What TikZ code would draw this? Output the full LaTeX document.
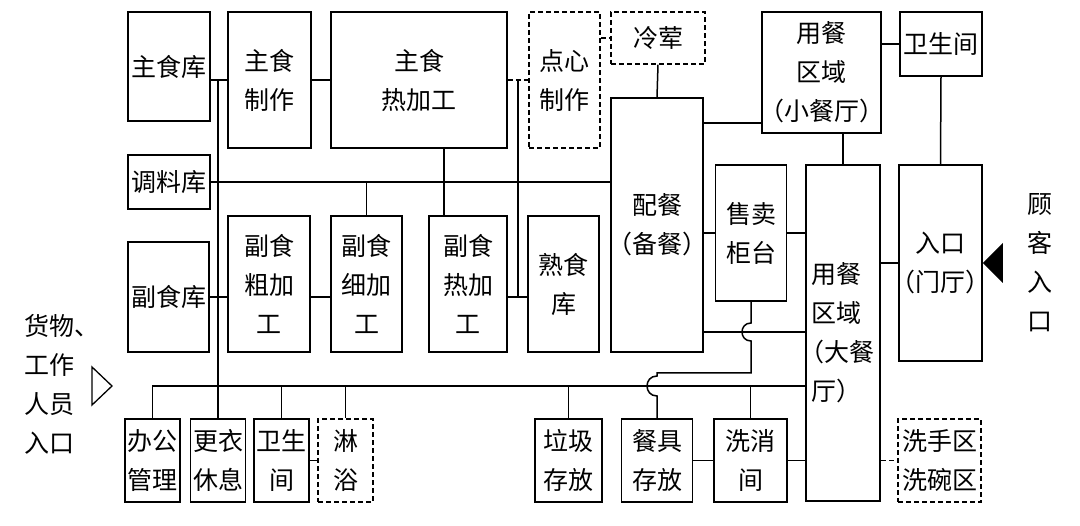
\documentclass[tikz,border=0pt]{standalone}
\usepackage{fontspec}
\setmainfont{Noto Sans CJK SC}
\usetikzlibrary{calc}
\newcommand\LP{\makebox[0.55em][r]{（}}
\newcommand\RP{\makebox[0.55em][l]{）}}
\tikzset{
  bx/.style={draw, line width=1.5pt, inner sep=0pt, align=center, font=\fontsize{25pt}{39pt}\selectfont},
  dbx/.style={bx, dash pattern=on 5pt off 3pt},
  ln/.style={line width=1.5pt},
  dln/.style={ln, dash pattern=on 5pt off 3pt},
  lbl/.style={inner sep=0pt, font=\fontsize{25pt}{39pt}\selectfont}
}
\begin{document}
\begin{tikzpicture}[x=1pt, y=-1pt]
\useasboundingbox (0,0) rectangle (1080,526);
% top row
\node[bx, minimum width=82pt, minimum height=109pt] (zsk) at (169,66.5) {主食库};
\node[bx, minimum width=83pt, minimum height=136pt] (zszz) at (269.5,80) {主食\\制作};
\node[bx, minimum width=176pt, minimum height=136pt] (zsrjg) at (419,80) {主食\\热加工};
\node[dbx, minimum width=71pt, minimum height=136pt] (dxzz) at (564.5,80) {点心\\制作};
\node[dbx, minimum width=94pt, minimum height=52pt] (lh) at (658,38) {冷荤};
\node[bx, minimum width=92pt, minimum height=254pt] (ph) at (657,225) {配餐\\\LP 备餐\RP};
\node[bx, minimum width=119pt, minimum height=121pt] (xct) at (821.5,72.5) {用餐\\区域\\\LP 小餐厅\RP};
\node[bx, minimum width=82pt, minimum height=64pt] (wsj1) at (941,44) {卫生间};
% middle
\node[bx, minimum width=82pt, minimum height=54pt] (tlk) at (169,182) {调料库};
\node[bx, minimum width=81pt, minimum height=110pt] (fsk) at (168.5,297) {副食库};
\node[bx, minimum width=82pt, minimum height=136pt] (fscjg) at (269,284) {副食\\粗加\\工};
\node[bx, minimum width=71pt, minimum height=136pt] (fsxjg) at (366.5,284) {副食\\细加\\工};
\node[bx, minimum width=78pt, minimum height=136pt] (fsrjg) at (468,284) {副食\\热加\\工};
\node[bx, minimum width=71pt, minimum height=136pt] (ssk) at (563.5,284) {熟食\\库};
\node[bx, minimum width=71pt, minimum height=136pt] (smgt) at (751,233) {售卖\\柜台};
\node[bx, minimum width=74pt, minimum height=336pt, align=left] (dct) at (843,333) {用餐\\区域\\\LP 大餐\\厅\RP};
\node[bx, minimum width=83pt, minimum height=196pt] (rk) at (940.5,263) {入口\\\LP 门厅\RP};
% bottom row
\node[bx, minimum width=55pt, minimum height=83pt] (bg) at (152.5,460.5) {办公\\管理};
\node[bx, minimum width=55pt, minimum height=83pt] (gy) at (218,460.5) {更衣\\休息};
\node[bx, minimum width=55pt, minimum height=83pt] (wsj2) at (281.5,460.5) {卫生\\间};
\node[dbx, minimum width=55pt, minimum height=83pt] (ly) at (345.5,460.5) {淋\\浴};
\node[bx, minimum width=67pt, minimum height=83pt] (lj) at (568.5,460.5) {垃圾\\存放};
\node[bx, minimum width=71pt, minimum height=83pt] (cj) at (657,460.5) {餐具\\存放};
\node[bx, minimum width=73pt, minimum height=83pt] (xx) at (750.5,460.5) {洗消\\间};
\node[dbx, minimum width=83pt, minimum height=83pt] (xs) at (939.5,460.5) {洗手区\\洗碗区};
% labels
\node[lbl, anchor=west, align=left] (gw) at (24,384) {货物、\\工作\\人员\\入口};
\node[lbl, align=center] (gk) at (1040,263) {顾\\客\\入\\口};
% helper coordinates
\coordinate (cbus) at (500,386);
\coordinate (cturn) at (700,373);
\coordinate (c332) at (751,332);
\coordinate (c123) at (730,123);
\coordinate (c444) at (444,182);
\coordinate (j518) at (518,80);
% connectors
\draw[ln] (zsk.east |- zszz.west) -- (zszz.west);
\draw[ln] (zszz.east) -- (zsrjg.west);
\draw[ln] (gy.north |- zszz.west) -- (gy.north);
\draw[ln] (tlk.east) -- (tlk.east -| ph.west);
\draw[ln] (fsk.east) -- (fsk.east -| fscjg.west);
\draw[ln] (fscjg.east |- fsk.east) -- (fsxjg.west |- fsk.east);
\draw[ln] (fsxjg.north) -- (fsxjg.north |- tlk.east);
\draw[ln] (c444 |- zsrjg.south) -- (c444 |- fsrjg.north);
\draw[dln] (zsrjg.east) -- (dxzz.west);
\draw[ln] (j518) -- (j518 |- fsk.east);
\draw[ln] (fsrjg.east |- fsk.east) -- (ssk.west |- fsk.east);
\draw[dln] (dxzz.east |- lh.west) -- (lh.west);
\draw[ln] (lh.south) -- (ph.north);
\draw[ln] (ph.east |- c123) -- (xct.west |- c123);
\draw[ln] (xct.east |- wsj1.west) -- (wsj1.west);
\draw[ln] (wsj1.south) -- (rk.north);
\draw[ln] (dct.north) -- (dct.north |- xct.south);
\draw[ln] (ph.east |- smgt.west) -- (smgt.west);
\draw[ln] (smgt.east) -- (dct.west |- smgt.east);
\draw[ln] (dct.east |- rk.west) -- (rk.west);
\draw[ln] (ph.east |- c332) -- (dct.west |- c332);
\draw[ln] (smgt.south) -- ($(smgt.south |- c332)+(0,-9)$)
  .. controls +(-12,0) and +(-12,0) .. ($(smgt.south |- c332)+(0,9)$)
  -- (smgt.south |- cturn) -- (cj.north |- cturn)
  -- ($(cj.north |- cbus)+(0,-10)$)
  .. controls +(-13.3,0) and +(-13.3,0) .. ($(cj.north |- cbus)+(0,10)$)
  -- (cj.north);
\draw[ln] (bg.north) -- (bg.north |- cbus) -- (dct.west |- cbus);
\draw[ln] (wsj2.north) -- (wsj2.north |- cbus);
\draw[ln] (ly.north) -- (ly.north |- cbus);
\draw[ln] (lj.north) -- (lj.north |- cbus);
\draw[ln] (xx.north) -- (xx.north |- cbus);
\draw[ln] (wsj2.east) -- (ly.west);
\draw[ln] (cj.east) -- (xx.west);
\draw[ln] (xx.east) -- (dct.west |- xx.east);
\draw[dln] (dct.east |- xs.west) -- (xs.west);
% entrance arrows
\fill (rk.east) -- ($(rk.east)+(20,-20)$) -- ($(rk.east)+(20,20)$) -- cycle;
\draw[line width=1.3pt, line join=miter] (92,367) -- (112,386) -- (92,405) -- cycle;
\end{tikzpicture}
\end{document}
